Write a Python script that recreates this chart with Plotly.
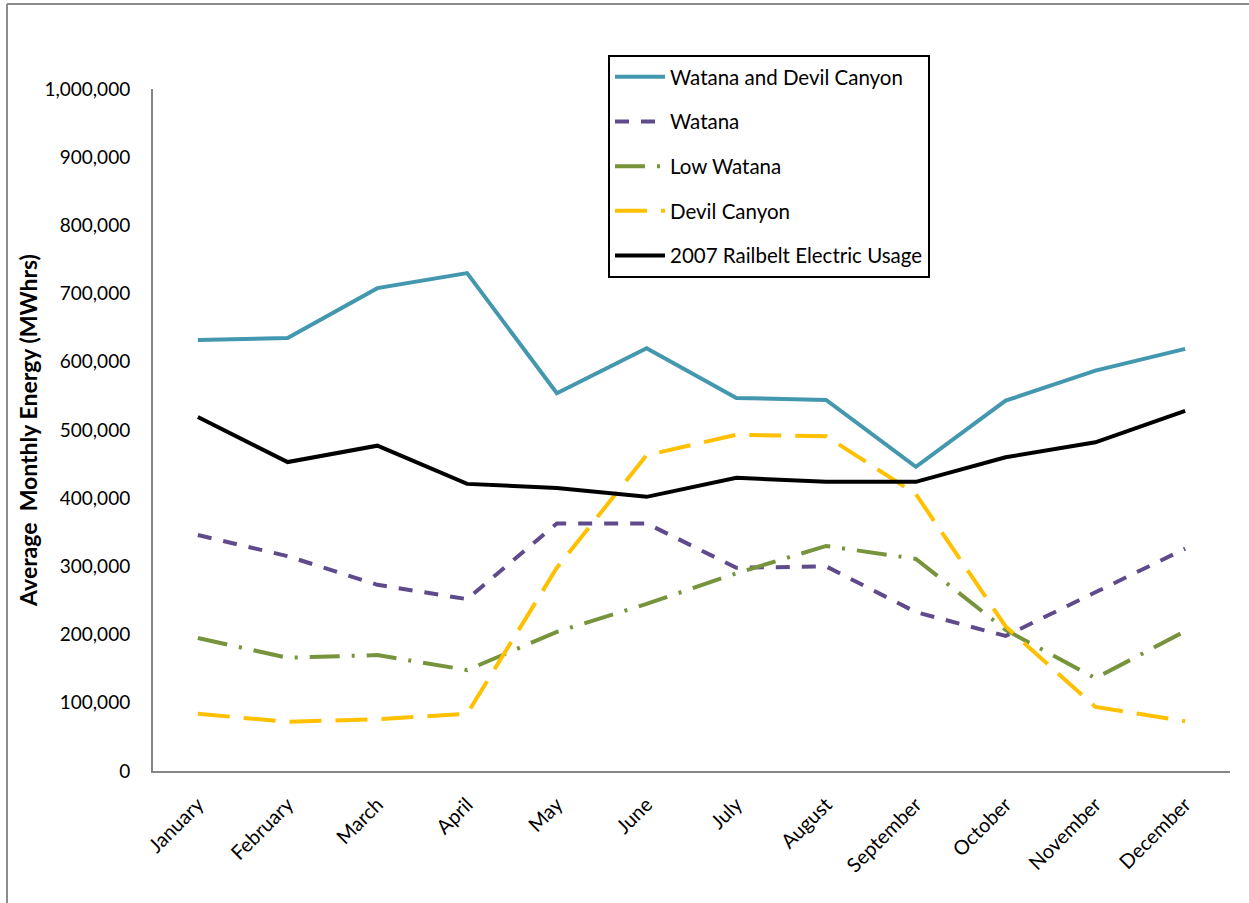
import plotly.graph_objects as go

months = ["January", "February", "March", "April", "May", "June", "July",
          "August", "September", "October", "November", "December"]
watana_devil = [632000, 635000, 708000, 730000, 554000, 620000, 547000, 544000, 446000, 543000, 587000, 619000]
watana = [346000, 315000, 273000, 252000, 363000, 363000, 298000, 300000, 233000, 198000, 262000, 326000]
low_watana = [195000, 166000, 170000, 148000, 204000, 245000, 290000, 330000, 311000, 207000, 136000, 205000]
devil_canyon = [84000, 72000, 76000, 84000, 298000, 463000, 493000, 491000, 406000, 212000, 94000, 73000]
railbelt = [519000, 453000, 477000, 421000, 415000, 402000, 430000, 424000, 424000, 460000, 482000, 528000]

FONT = "Lato"
W, H = 1249, 903
L, R, T, B = 153, 1230, 89, 771

fig = go.Figure()
series = [
    ("Watana and Devil Canyon", watana_devil, "#4397AE", "solid"),
    ("Watana", watana, "#5F4B8B", "14px,12px"),
    ("Low Watana", low_watana, "#77933C", "30px,12px,3px,12px"),
    ("Devil Canyon", devil_canyon, "#FFC000", "32px,14px"),
    ("2007 Railbelt Electric Usage", railbelt, "#000000", "solid"),
]
for i, (name, vals, col, dash) in enumerate(series):
    fig.add_trace(go.Scatter(x=months, y=vals, name=name, mode="lines",
                             line=dict(color=col, width=4, dash=dash),
                             legendgroup=f"g{i}"))

def px_x(p):
    return (p - L) / (R - L)

def px_y(p):
    return (B - p) / (B - T)

shapes = [
    dict(type="line", xref="paper", yref="paper", x0=px_x(7), x1=px_x(7), y0=px_y(4), y1=px_y(903),
         line=dict(color="#8C8C8C", width=2)),
    dict(type="line", xref="paper", yref="paper", x0=px_x(7), x1=px_x(1249), y0=px_y(4), y1=px_y(4),
         line=dict(color="#8C8C8C", width=2)),
]

fig.update_layout(
    width=W, height=H,
    margin=dict(l=L, r=W - R, t=T, b=H - B),
    paper_bgcolor="white", plot_bgcolor="white",
    font=dict(family=FONT, size=19, color="#000000"),
    showlegend=True,
    legend=dict(x=px_x(608), y=px_y(55), xanchor="left", yanchor="top",
                bordercolor="#000000", borderwidth=2, bgcolor="white",
                font=dict(family=FONT, size=20.5, color="#000000"),
                tracegroupgap=15, itemwidth=50),
    xaxis=dict(showline=True, linecolor="#868686", linewidth=2, showgrid=False,
               ticks="", tickangle=-45, tickfont=dict(family=FONT, size=20),
               range=[-0.5, 11.5], ticklabelstandoff=12, zeroline=False),
    yaxis=dict(range=[0, 1000000], tickvals=list(range(0, 1000001, 100000)),
               tickformat=",d", showline=True, linecolor="#868686", linewidth=2,
               showgrid=False, ticks="", zeroline=False, ticklabelstandoff=17,
               tickfont=dict(family=FONT, size=19),
               title=dict(text="<b>Average  Monthly Energy (MWhrs)</b>",
                          font=dict(family=FONT, size=23), standoff=0)),
    shapes=shapes,
)

fig.write_html("out.html")
